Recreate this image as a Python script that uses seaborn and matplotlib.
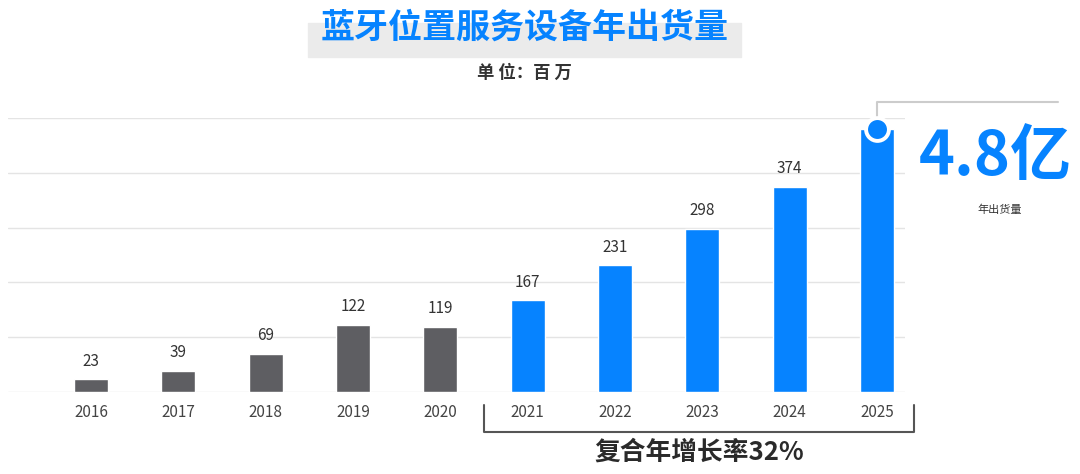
import numpy as np
import pandas as pd
import matplotlib.pyplot as plt
import seaborn as sns
from matplotlib.patches import Rectangle

years = ['2016', '2017', '2018', '2019', '2020', '2021', '2022', '2023', '2024', '2025']
shipments = [23, 39, 69, 122, 119, 167, 231, 298, 374, 480]
period = ['历史', '历史', '历史', '历史', '历史', '预测', '预测', '预测', '预测', '预测']
labels = ['23', '39', '69', '122', '119', '167', '231', '298', '374', '']

gray = '#5e5e62'
blue = '#0683ff'

sns.set_theme(style='white')
plt.rcParams['font.family'] = ['Noto Sans CJK SC', 'DejaVu Sans']

df = pd.DataFrame({'year': years, 'value': shipments, 'period': period})

fig = plt.figure(figsize=(10.8, 4.74), dpi=100)
ax = fig.add_axes([0.0074, 0.173, 0.8306, 0.578])

sns.barplot(data=df, x='year', y='value', hue='period',
            palette={'历史': gray, '预测': blue}, width=0.39, saturation=1,
            dodge=False, legend=False, ax=ax, zorder=3)

ax.set_ylim(0, 500)
ax.set_xlim(-0.95, 9.32)
ax.set_yticks(np.arange(0, 501, 100))
ax.yaxis.grid(True, color='#e4e4e4', linewidth=1)
ax.set_axisbelow(True)
ax.set_yticklabels([])
ax.set_xlabel('')
ax.set_ylabel('')
for s in ax.spines.values():
    s.set_visible(False)
ax.tick_params(axis='x', length=0, pad=9, labelsize=11, labelcolor='#444444')
ax.tick_params(axis='y', length=0)

for i, (v, lab) in enumerate(zip(shipments, labels)):
    if lab:
        ax.annotate(lab, (i, v), xytext=(0, 7), textcoords='offset points',
                    ha='center', va='bottom', fontsize=11, color='#333333')

# marker on the last bar and the call-out line
ax.plot([9, 9, 11.07], [480, 530, 530], color='#cccccc', lw=1.5,
        clip_on=False, zorder=2)
ax.scatter([9], [480], s=270, color=blue, edgecolor='white', linewidth=2.8,
           clip_on=False, zorder=5)

fig.text(0.922, 0.669, '4.8亿', ha='center', va='center', fontsize=44,
         fontweight='bold', color=blue)
fig.text(0.926, 0.557, '年出货量', ha='center', va='center', fontsize=8,
         color='#333333')

# bracket under forecast years
tr = ax.get_xaxis_transform()
ax.plot([4.5, 4.5, 9.42, 9.42], [-0.047, -0.146, -0.146, -0.047],
        transform=tr, color='#555555', lw=1.5, clip_on=False)
ax.text(6.96, -0.22, '复合年增长率32%', transform=tr, ha='center', va='center',
        fontsize=18.5, fontweight='bold', color='#2a2a2a')

# title with grey band
fig.patches.append(Rectangle((0.285, 0.880), 0.401, 0.0717,
                             transform=fig.transFigure, color='#ebebeb', zorder=0))
fig.text(0.486, 0.943, '蓝牙位置服务设备年出货量', ha='center', va='center',
         fontsize=24.5, fontweight='bold', color=blue, zorder=2)
fig.text(0.486, 0.846, '单 位：百 万', ha='center', va='center', fontsize=12.5,
         fontweight='bold', color='#333333')

fig.savefig('out.png', dpi=100)
